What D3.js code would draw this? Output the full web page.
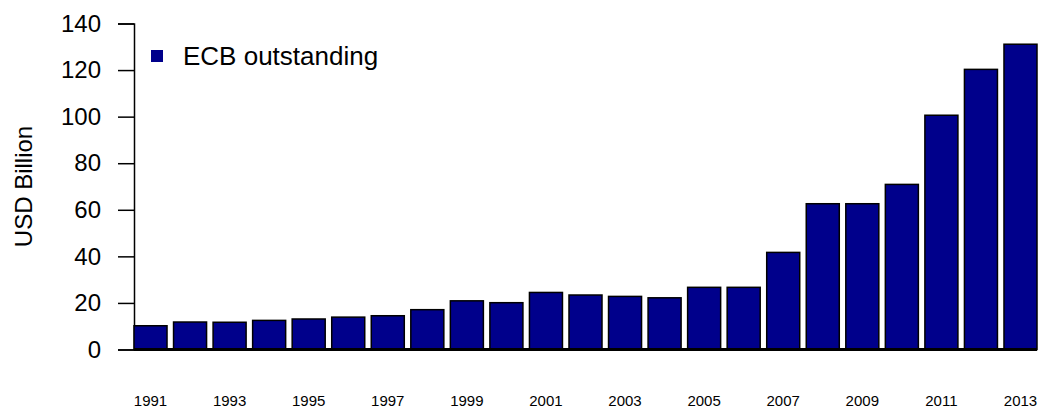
<!DOCTYPE html>
<html>
<head>
<meta charset="utf-8">
<script src="https://cdn.jsdelivr.net/npm/d3@7"></script>
<style>
  body { margin: 0; background: #fff; }
  text { font-family: "Liberation Sans", Arial, sans-serif; }
</style>
</head>
<body>
<div id="chart"></div>
<script>
// dados
const anos = d3.range(1991, 2014).map(String);
const ecbOutstanding = [10.2, 11.8, 11.7, 12.5, 13.1, 13.9, 14.5, 17.1, 20.9, 20.1,
  24.5, 23.4, 22.8, 22.2, 26.7, 26.7, 41.7, 62.6, 62.6, 70.9, 100.6, 120.3, 131.1];
const yTicks = [0, 20, 40, 60, 80, 100, 120, 140];
const rotuloX = anos.filter((d, i) => i % 2 === 0);

const width = 1038, height = 408;
const margins = { top: 23.5, right: 1, bottom: 58.5, left: 134 };

const svg = d3.select("#chart").append("svg")
    .attr("width", width)
    .attr("height", height);

const x = d3.scaleBand()
    .domain(anos)
    .range([margins.left, width - margins.right])
    .paddingInner(0.165)
    .paddingOuter(0)
    .align(0);

const y = d3.scaleLinear()
    .domain([0, 140])
    .range([height - margins.bottom, margins.top]);

// eixo y
const eixoY = svg.append("g")
    .attr("transform", `translate(${margins.left},0)`)
    .call(d3.axisLeft(y).tickValues(yTicks).tickSize(16).tickPadding(17));
eixoY.select(".domain").attr("stroke", "#000").attr("stroke-width", 1.5);
eixoY.selectAll(".tick line").attr("stroke", "#000").attr("stroke-width", 1.5);
eixoY.selectAll(".tick text")
    .attr("font-size", "24px")
    .attr("fill", "#000")
    .style("font-family", "'Liberation Sans', Arial, sans-serif");

svg.append("text")
    .attr("transform", `translate(32, ${(margins.top + height - margins.bottom) / 2}) rotate(-90)`)
    .attr("text-anchor", "middle")
    .attr("font-size", "24px")
    .attr("fill", "#000")
    .text("USD Billion");

// barras
svg.append("g").selectAll("rect")
    .data(ecbOutstanding)
    .enter()
    .append("rect")
    .attr("x", (d, i) => x(anos[i]))
    .attr("y", d => y(d))
    .attr("width", x.bandwidth())
    .attr("height", d => y(0) - y(d))
    .attr("fill", "#00008b")
    .attr("stroke", "#000")
    .attr("stroke-width", 1.5);

// linha de base
svg.append("line")
    .attr("x1", margins.left)
    .attr("x2", x(anos[anos.length - 1]) + x.bandwidth())
    .attr("y1", y(0))
    .attr("y2", y(0))
    .attr("stroke", "#000")
    .attr("stroke-width", 3);

// rótulos dos anos
svg.append("g").selectAll("text")
    .data(rotuloX)
    .enter()
    .append("text")
    .attr("x", d => x(d) + x.bandwidth() / 2)
    .attr("y", 406)
    .attr("text-anchor", "middle")
    .attr("font-size", "15px")
    .attr("fill", "#000")
    .text(d => d);

// legenda
svg.append("rect")
    .attr("x", 151)
    .attr("y", 50)
    .attr("width", 12)
    .attr("height", 12)
    .attr("fill", "#00008b");

svg.append("text")
    .attr("x", 183)
    .attr("y", 65)
    .attr("font-size", "26px")
    .attr("fill", "#000")
    .text("ECB outstanding");
</script>
</body>
</html>
